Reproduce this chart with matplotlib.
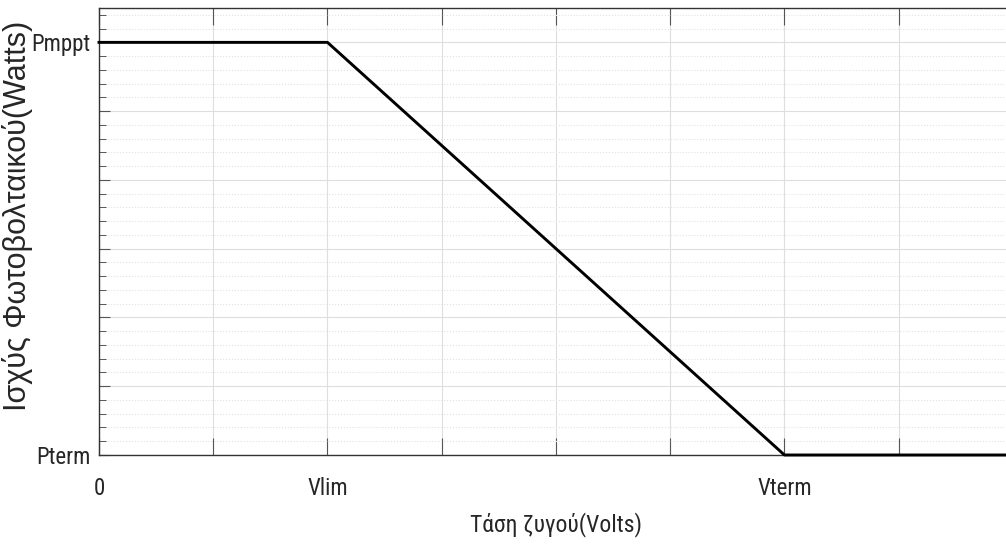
import numpy as np
import matplotlib.pyplot as plt
from matplotlib.ticker import MultipleLocator

# bus voltage breakpoints (arbitrary units) and PV power limit curve
voltage = [0, 2, 6, 8]
power = [6, 6, 0, 0]

x_ticks = [0, 1, 2, 3, 4, 5, 6, 7, 8]
x_labels = ['0', '', 'Vlim', '', '', '', 'Vterm', '', '']
y_ticks = [0, 1, 2, 3, 4, 5, 6]
y_labels = ['Pterm', '', '', '', '', '', 'Pmppt']

narrow = ['Roboto Condensed', 'Liberation Sans', 'DejaVu Sans']
regular = ['Liberation Sans', 'DejaVu Sans']
txt = '#262626'

fig = plt.figure(figsize=(10.06, 5.47), dpi=100)
ax = fig.add_axes([0.0984, 0.1682, 0.9085, 0.8172])

ax.plot(voltage, power, color='black', lw=2.1, clip_on=False, zorder=5)

ax.set_xlim(0, 8)
ax.set_ylim(0, 6.5)

ax.set_xticks(x_ticks)
ax.set_xticklabels(x_labels, family=narrow, fontsize=16.5, color=txt)
ax.set_yticks(y_ticks)
ax.set_yticklabels(y_labels, family=narrow, fontsize=16.5, color=txt)
ax.yaxis.set_minor_locator(MultipleLocator(0.2))

ax.tick_params(axis='x', which='major', direction='in', length=12, width=0.8,
               top=True, color='#555555', pad=16)
ax.tick_params(axis='y', which='major', direction='in', length=8, width=0.8,
               color='#555555', pad=6)
ax.tick_params(axis='y', which='minor', direction='in', length=5, width=0.7,
               color='#555555')

ax.grid(True, which='major', color='#dedede', lw=0.8)
ax.grid(True, which='minor', axis='y', color='#e2e2e2', lw=0.8, ls=':')
ax.set_axisbelow(True)

for s in ['top', 'left', 'bottom']:
    ax.spines[s].set_color('#333333')
    ax.spines[s].set_linewidth(1.0)
ax.spines['right'].set_visible(False)

ax.set_xlabel('Τάση ζυγού(Volts)', family=narrow, fontsize=17, color=txt)
ax.xaxis.set_label_coords(0.5, -0.128)
ax.set_ylabel('Ισχύς Φωτοβολταικού(Watts)', family=regular, fontsize=22,
              color=txt)
ax.yaxis.set_label_coords(-0.072, 0.535)

fig.savefig('out.png', dpi=100)
